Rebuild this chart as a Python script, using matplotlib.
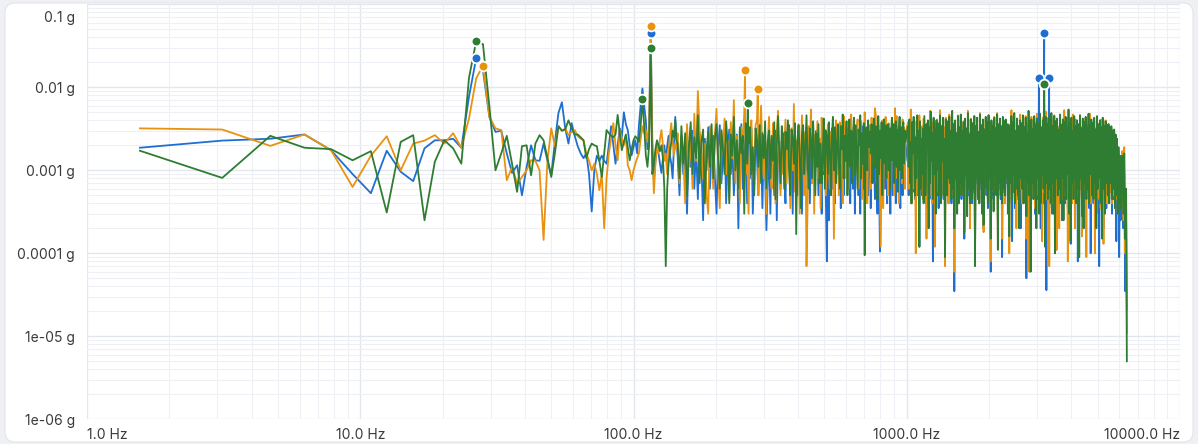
import numpy as np
import matplotlib.pyplot as plt
from matplotlib.patches import FancyBboxPatch
from matplotlib.ticker import NullFormatter
from matplotlib.transforms import IdentityTransform, ScaledTranslation

plt.rcParams['font.family'] = ['Inter', 'DejaVu Sans']

DF = 1.5625  # FFT bin width in Hz

# amplitudes in mg
# bins 1..92 (every FFT bin)
blue_low = [1.87, 2.28, 2.4, 2.7, 1.75, 0.9, 0.53, 1.72, 0.96, 0.74, 1.84, 2.3, 2.3, 2.4, 1.87, 7.7, 22.4, 16.0,
            4.4, 2.9, 3.0, 1.6, 0.93, 1.15, 0.5, 1.1, 2.0, 1.32,
            1.3, 2.1, 1.3, 0.87, 2.2, 4.9, 6.6, 3.2, 2.1, 3.7,
            2.6, 1.95, 1.6, 1.4, 1.6, 0.9, 0.32, 1.0, 1.5, 1.3,
            1.5, 1.3, 1.2, 2.0, 3.4, 2.0, 1.2, 2.0, 3.2, 2.5,
            5.0, 3.6, 3.05, 2.0, 1.52, 1.9, 2.3, 1.6, 3.5, 6.1,
            9.7, 6.0, 4.0, 1.8, 3.0, 44.6, 2.2, 0.76, 1.3, 2.2,
            1.6, 1.2, 0.93, 1.4, 2.0, 1.3, 1.95, 2.6, 1.5, 1.2,
            0.8, 2.0, 4.4, 2.2]
orange_low = [3.2, 3.1, 1.97, 2.7, 1.75, 0.63, 1.5, 2.57, 1.0, 2.1, 2.28, 2.65, 2.1, 2.8, 1.87, 4.2, 12.8, 18.2,
              4.4, 3.2, 3.05, 0.76, 1.1, 0.69, 0.83, 1.0, 1.32, 1.3,
              1.0, 0.145, 1.32, 3.2, 1.95, 3.4, 3.0, 3.2, 2.65, 2.9,
              3.05, 2.57, 2.4, 2.3, 1.6, 1.3, 1.0, 1.2, 0.9, 0.575,
              0.9, 0.2, 0.8, 1.6, 2.4, 3.7, 2.0, 1.32, 3.05, 2.4,
              2.0, 2.57, 1.15, 1.0, 0.76, 1.0, 1.2, 1.4, 1.6, 2.4,
              3.4, 2.8, 3.05, 2.2, 3.0, 54.8, 1.5, 0.53, 1.2, 2.1,
              1.6, 2.4, 3.05, 2.0, 1.3, 1.6, 0.9, 1.8, 2.6, 3.7,
              2.2, 1.5, 2.1, 1.8]
green_low = [1.72, 0.81, 2.6, 1.87, 1.8, 1.32, 1.7, 0.31, 2.2, 2.65, 0.25, 1.27, 2.3, 1.84, 1.2, 13.0, 36.0, 33.0,
             5.9, 1.0, 1.6, 2.6, 1.2, 0.55, 1.95, 2.0, 0.87, 2.1,
             2.65, 2.3, 1.4, 0.83, 1.6, 3.4, 3.0, 3.1, 4.0, 3.2,
             2.7, 2.7, 2.5, 2.3, 1.4, 1.8, 2.1, 2.0, 1.95, 1.3,
             0.83, 1.6, 3.05, 2.8, 2.6, 2.5, 2.7, 4.65, 2.8, 1.75,
             2.2, 2.7, 1.9, 1.32, 1.8, 2.3, 2.57, 2.4, 2.2, 3.5,
             7.2, 3.5, 1.52, 1.1, 2.0, 29.5, 0.9, 1.2, 1.8, 2.3,
             2.0, 1.7, 2.0, 1.4, 0.6, 0.07, 0.6, 1.2, 1.6, 2.2,
             3.0, 2.5, 4.0, 2.3]

# 145 Hz .. 990 Hz readings (points get denser towards 1 kHz)
blue_mid = [1.5, 0.5, 2.6, 0.9, 1.8, 0.3, 2.2, 1.1, 3.0, 0.6, 1.9, 0.45, 2.8, 1.3, 0.25, 2.4, 1.0, 3.3, 0.6, 1.7,
            2.6, 0.8, 0.3, 1.9, 3.5, 0.7, 1.4, 2.9, 0.4, 1.6, 3.1, 0.9, 2.0, 0.5, 1.2, 2.7, 0.2, 1.8, 3.6, 0.6,
            1.4, 2.5, 0.4, 2.1, 0.8, 3.2, 0.3, 1.1, 2.3, 1.5, 0.5, 2.9, 1.7, 0.35, 2.6, 1.0, 0.19, 0.7, 1.9, 0.3,
            2.4, 1.2, 0.5, 3.0, 0.25, 1.6, 2.2, 0.6, 1.8, 2.8, 0.9, 0.4, 2.5, 1.3, 3.5, 0.55, 1.7, 0.3, 3.4, 1.1,
            2.0, 0.5, 3.1, 0.8, 1.5, 0.3, 2.6, 1.2, 0.6, 3.3, 1.0, 2.3, 0.4, 1.9, 0.7, 2.7, 1.4, 1.1, 3.0, 1.6,
            0.5, 2.1, 1.1, 0.3, 3.4, 0.9, 1.8, 0.5, 0.08, 1.3, 0.25, 2.8, 1.0, 3.2, 0.6, 1.7, 0.4, 2.4, 1.2, 2.9,
            0.7, 2.2, 0.35, 3.0, 1.4, 0.5, 2.6, 2.5, 1.9, 3.1, 0.8, 2.3, 0.4, 2.7, 1.1, 0.6, 3.3, 0.3, 2.0, 1.5,
            2.8, 0.5, 1.7, 0.3, 2.5, 1.2, 3.4, 0.6, 2.1, 0.4, 2.9, 1.0, 0.5, 3.2, 1.6, 0.35, 2.4, 0.7, 3.0, 1.3,
            0.45, 2.6, 1.1, 0.3, 3.5, 0.7, 0.105, 0.5, 2.8, 2.3, 1.8, 3.1, 0.6, 2.4, 1.4, 0.4, 3.3, 2.2, 2.0, 0.3,
            2.7, 1.2, 0.5, 3.0, 0.8, 2.3, 0.4, 1.9, 3.4, 0.6, 2.5, 1.0, 0.35, 2.9, 1.5, 0.5, 3.2, 0.7, 2.1, 1.3]
orange_mid = [2.8, 0.7, 2.4, 1.5, 0.4, 3.6, 1.1, 2.4, 0.6, 4.8, 1.3, 9.0, 3.0, 1.9, 0.8, 2.1, 0.5, 0.3, 3.4, 1.6,
              0.6, 2.7, 5.5, 1.0, 0.35, 3.1, 1.7, 4.2, 0.9, 2.3, 0.45, 3.8, 1.4, 7.0, 0.7, 2.6, 1.2, 0.4, 3.3, 2.0,
              5.0, 0.9, 1.8, 0.3, 2.9, 4.0, 1.1, 0.6, 3.5, 4.0, 0.5, 2.4, 6.0, 1.3, 0.8, 3.0, 0.3, 2.2, 4.4, 1.0,
              0.6, 3.7, 1.6, 0.4, 2.8, 5.2, 1.2, 0.5, 2.5, 0.9, 1.9, 4.1, 0.7, 2.6, 1.4, 0.35, 3.2, 1.0, 6.3, 0.55,
              2.3, 0.8, 3.6, 0.3, 1.7, 4.6, 1.2, 0.5, 2.9, 0.07, 0.4, 3.4, 1.8, 5.4, 0.7, 2.1, 0.3, 2.7, 1.3, 3.9,
              0.8, 2.4, 0.35, 4.3, 1.6, 1.0, 3.1, 0.5, 2.2, 3.6, 1.1, 0.6, 2.9, 1.5, 1.8, 0.15, 1.4, 4.0, 0.9, 2.6,
              0.5, 3.8, 1.2, 2.7, 0.4, 4.5, 1.5, 0.8, 3.3, 2.0, 0.6, 3.0, 1.3, 4.7, 0.7, 2.5, 3.5, 3.4, 1.0, 2.8,
              4.1, 0.6, 2.3, 1.5, 3.9, 0.45, 2.7, 1.1, 5.0, 0.8, 1.9, 0.4, 2.8, 1.7, 3.5, 0.6, 4.3, 1.2, 2.0, 3.1,
              5.6, 4.6, 0.7, 2.6, 1.0, 2.1, 0.5, 0.12, 1.8, 4.0, 0.35, 2.4, 1.2, 4.4, 0.8, 3.0, 0.5, 3.7, 3.2, 2.9,
              0.6, 4.2, 1.3, 3.4, 0.5, 5.6, 1.6, 4.5, 0.8, 3.1, 0.4, 3.8, 1.0, 2.6, 0.7, 4.1, 1.2, 3.3, 0.6, 2.8]
green_mid = [2.1, 0.8, 3.4, 1.2, 2.8, 0.5, 1.9, 3.8, 0.9, 2.5, 1.4, 4.6, 0.7, 2.2, 3.1, 0.4, 1.7, 2.9, 1.1, 3.6,
             0.8, 2.4, 3.6, 1.3, 0.6, 3.0, 1.8, 0.9, 3.9, 2.0, 0.4, 2.7, 1.5, 4.4, 1.0, 2.3, 0.6, 3.3, 1.6, 2.6,
             0.3, 3.7, 1.2, 2.1, 3.3, 0.9, 1.9, 0.5, 3.2, 2.4, 1.1, 3.5, 0.7, 2.8, 1.4, 3.9, 0.6, 2.2, 3.0, 0.8,
             2.6, 1.3, 3.8, 0.45, 2.0, 4.5, 1.6, 0.7, 3.4, 2.3, 0.6, 2.9, 1.8, 4.0, 1.0, 0.5, 3.1, 2.5, 1.2, 3.7,
             0.17, 2.2, 3.5, 1.5, 0.35, 2.7, 3.5, 0.9, 1.9, 4.6, 1.3, 0.6, 3.2, 2.4, 0.8, 3.9, 1.7, 0.5, 2.8, 1.1,
             3.6, 0.7, 2.1, 0.7, 1.4, 4.2, 0.6, 3.0, 2.6, 0.9, 3.8, 1.6, 0.5, 2.5, 4.4, 1.0, 3.3, 0.7, 2.0, 3.6,
             1.2, 0.6, 3.4, 1.8, 4.7, 0.8, 2.6, 1.3, 3.9, 0.5, 2.2, 4.1, 1.1, 3.0, 0.7, 2.7, 4.3, 0.9, 3.5, 1.5,
             0.6, 3.1, 2.0, 4.6, 0.8, 2.8, 1.2, 3.7, 0.095, 2.4, 3.3, 1.0, 4.0, 1.9, 2.9, 1.6, 3.6, 0.7, 2.5, 4.2,
             1.1, 3.4, 0.6, 0.45, 4.5, 0.9, 3.0, 1.4, 3.8, 0.5, 2.3, 4.1, 1.2, 3.5, 0.8, 2.6, 3.6, 1.0, 3.2, 0.6,
             2.9, 4.3, 1.3, 3.6, 0.7, 2.4, 3.9, 1.1, 3.1, 0.55, 2.7, 4.4, 1.0, 3.3, 0.8, 2.5, 3.8, 1.2, 3.0, 2.2]

# 1010 Hz .. 6100 Hz, log spaced readings
blue_high = [2.4, 0.5, 3.0, 0.6, 1.9, 0.4, 2.7, 0.55, 3.2, 0.8, 0.45, 2.5, 0.6, 3.0, 0.5, 2.0, 0.12, 2.8, 0.7, 3.3,
             0.5, 2.1, 0.6, 3.1, 0.9, 0.4, 2.6, 0.55, 2.9, 0.35, 2.3, 0.7, 3.4, 0.45, 1.8, 0.08, 2.9, 0.6, 2.2, 0.5,
             3.0, 0.5, 2.4, 0.35, 1.7, 3.3, 0.6, 2.6, 0.8, 3.2, 0.45, 2.1, 0.25, 2.8, 0.9, 0.5, 2.7, 0.4, 3.0, 0.7,
             2.0, 0.4, 3.4, 0.55, 2.5, 0.035, 2.8, 0.8, 1.9, 0.5, 3.1, 0.4, 2.3, 0.6, 3.3, 0.45, 2.0, 0.5, 2.7, 0.15,
             2.9, 0.8, 2.3, 0.45, 3.3, 0.5, 1.8, 0.35, 2.8, 0.7, 0.4, 2.6, 0.55, 3.1, 0.1, 2.4, 0.7, 3.0, 0.45, 2.0,
             0.4, 3.2, 0.6, 2.5, 0.5, 2.9, 0.2, 2.2, 0.9, 3.1, 0.5, 2.7, 0.35, 3.2, 0.6, 2.0, 0.06, 2.8, 0.5, 2.4,
             0.45, 2.9, 0.8, 2.2, 0.5, 3.3, 0.25, 2.5, 0.6, 2.9, 0.45, 2.3, 0.09, 3.0, 0.55, 2.6, 0.4, 2.9, 0.7, 2.4,
             0.5, 3.4, 0.4, 2.1, 0.7, 3.1, 0.14, 2.7, 0.55, 3.0, 0.35, 2.4, 0.8, 3.3, 0.45, 2.1, 0.6, 2.8, 0.2, 3.2,
             0.55, 2.6, 0.4, 3.0, 0.8, 2.3, 0.05, 2.9, 0.5, 3.3, 0.6, 2.5, 0.35, 3.0, 0.7, 2.1, 0.45, 3.1, 0.3, 2.7,
             0.6, 3.3, 0.45, 2.3, 0.8, 3.0, 0.2, 2.6, 0.55, 3.2, 0.4, 2.2, 0.7, 2.9, 0.036, 3.0, 0.5, 2.4, 0.35, 3.4,
             0.55, 2.8, 0.3, 3.1, 0.6, 2.5, 0.45, 3.0, 0.11, 2.7, 0.7, 3.3, 0.4, 2.3, 0.6, 3.0, 0.25, 2.6, 0.5, 2.9,
             0.4, 3.2, 0.7, 2.4, 0.35, 3.0, 0.55, 2.8, 0.13, 3.4, 0.5, 2.3, 0.6, 3.1, 0.3, 2.6, 0.5, 3.0, 0.08, 2.5,
             0.5, 3.0, 0.6, 2.7, 0.4, 3.3, 0.2, 2.5, 0.7, 3.0, 0.45, 2.3, 0.55, 3.2, 0.35, 2.8, 0.1, 2.9, 0.6, 2.4,
             0.4, 3.0, 0.55, 2.6, 0.3, 3.1, 0.5, 2.4, 0.07, 2.9, 0.6, 2.7, 0.45, 3.0, 0.2, 2.5, 0.55, 2.8, 0.35, 2.6,
             0.5, 2.7, 0.4, 2.4, 0.55, 2.5, 0.3, 2.2, 0.45, 2.0, 0.35, 1.8, 0.14, 1.6, 0.4, 1.3, 0.09, 1.0, 0.25, 0.6]
orange_high = [3.8, 0.6, 3.1, 0.9, 5.4, 0.4, 2.8, 1.0, 3.5, 0.6, 2.6, 0.1, 3.9, 0.8, 3.2, 0.5, 4.6, 0.9, 2.4, 0.6,
               3.4, 0.45, 4.2, 1.0, 0.6, 3.0, 0.15, 3.7, 0.8, 3.1, 0.5, 5.2, 0.7, 2.7, 0.4, 3.8, 1.0, 3.2, 0.12, 3.6,
               0.9, 4.1, 0.55, 2.9, 0.7, 5.3, 0.45, 2.6, 0.8, 3.7, 0.5, 3.3, 0.07, 4.3, 1.0, 0.6, 3.1, 0.4, 4.7, 0.8,
               2.9, 0.5, 4.0, 0.7, 3.4, 0.06, 3.8, 0.9, 2.6, 0.55, 4.6, 0.4, 3.2, 0.8, 4.1, 0.5, 3.0, 0.6, 3.9, 0.2,
               3.5, 1.0, 3.0, 0.55, 5.2, 0.6, 2.8, 0.2, 4.2, 0.8, 0.5, 3.7, 0.7, 4.5, 0.09, 3.2, 0.9, 4.3, 0.55, 2.9,
               0.45, 4.9, 0.8, 3.4, 0.55, 4.0, 0.18, 3.1, 1.0, 4.2, 0.6, 3.6, 0.4, 4.6, 0.8, 2.9, 0.08, 3.8, 0.7, 3.3,
               0.55, 4.4, 0.9, 3.2, 0.5, 4.9, 0.12, 3.5, 0.8, 3.9, 0.5, 3.2, 0.15, 4.3, 0.6, 3.7, 0.4, 4.0, 0.8, 3.4,
               0.6, 3.6, 0.1, 3.0, 0.7, 5.3, 0.5, 3.6, 1.0, 3.8, 0.55, 2.9, 0.2, 4.2, 0.8, 3.4, 0.45, 4.7, 0.6, 3.5,
               0.4, 4.0, 0.8, 3.1, 0.55, 4.5, 0.15, 3.3, 0.7, 3.8, 0.06, 3.4, 0.9, 4.4, 0.5, 3.0, 0.6, 4.1, 0.35, 3.7,
               0.8, 4.8, 0.5, 3.2, 0.4, 3.9, 0.7, 2.8, 0.14, 4.3, 0.55, 3.5, 0.9, 5.1, 0.45, 3.1, 0.6, 3.8, 0.07, 3.3,
               0.55, 4.2, 0.4, 3.4, 0.8, 4.6, 0.5, 3.0, 0.11, 4.0, 0.7, 3.3, 0.2, 4.4, 0.6, 3.6, 0.45, 3.2, 0.9, 5.3,
               0.5, 3.7, 0.7, 3.1, 0.08, 4.3, 0.55, 3.4, 0.8, 3.9, 0.4, 4.7, 0.6, 3.3, 0.2, 4.1, 0.5, 3.5, 0.7, 3.2,
               0.45, 4.6, 0.6, 3.3, 0.16, 4.0, 0.8, 2.9, 0.55, 4.2, 0.09, 3.6, 0.7, 3.4, 0.5, 4.8, 0.4, 3.8, 0.6, 3.3,
               0.55, 3.9, 0.1, 3.2, 0.7, 4.4, 0.45, 3.5, 0.6, 3.0, 0.35, 4.1, 0.8, 3.7, 0.13, 3.3, 0.5, 4.0, 0.4, 3.1,
               0.6, 3.6, 0.45, 3.3, 0.55, 3.2, 0.4, 2.9, 0.5, 2.7, 0.35, 2.3, 0.45, 2.0, 0.3, 1.7, 0.4, 1.4, 0.45, 1.1]
green_high = [3.4, 1.1, 4.1, 0.7, 2.2, 0.4, 3.8, 1.6, 4.4, 1.2, 0.5, 2.5, 0.8, 4.6, 1.4, 3.0, 0.12, 3.9, 0.6, 2.4,
              0.9, 3.2, 0.4, 4.5, 1.6, 0.5, 3.6, 2.0, 4.0, 0.2, 3.3, 0.7, 5.1, 1.3, 2.8, 0.45, 4.3, 0.9, 3.1, 0.3,
              4.0, 1.0, 3.7, 0.5, 2.0, 4.6, 0.4, 3.4, 1.3, 4.3, 0.5, 2.4, 0.09, 4.1, 1.1, 0.5, 3.9, 0.8, 4.4, 0.7,
              3.0, 0.45, 5.2, 0.6, 3.6, 0.2, 4.0, 0.8, 2.8, 0.3, 4.5, 0.4, 3.3, 0.7, 4.7, 0.5, 3.0, 0.6, 3.8, 0.18,
              4.2, 0.9, 3.2, 0.28, 4.9, 0.6, 2.7, 0.4, 4.1, 0.7, 0.45, 3.7, 0.6, 4.5, 0.07, 3.4, 0.8, 4.3, 0.5, 2.9,
              0.4, 4.7, 0.7, 3.5, 0.3, 4.1, 0.22, 3.1, 1.0, 4.4, 0.6, 3.8, 0.4, 4.6, 0.8, 2.9, 0.15, 4.0, 0.6, 3.4,
              0.32, 4.3, 0.9, 3.2, 0.5, 4.7, 0.11, 3.6, 0.7, 4.2, 0.5, 3.4, 0.4, 4.4, 0.6, 3.9, 0.5, 4.1, 0.8, 3.6,
              0.3, 3.5, 0.16, 3.1, 0.7, 4.5, 0.45, 3.8, 0.9, 4.9, 0.4, 3.0, 0.6, 4.2, 0.5, 3.4, 0.2, 4.0, 0.8, 3.7,
              0.6, 4.6, 0.4, 3.3, 0.8, 4.3, 0.28, 2.8, 0.7, 5.2, 0.5, 3.9, 0.06, 4.1, 0.7, 3.1, 0.45, 4.5, 0.6, 3.5,
              0.2, 4.2, 0.8, 3.7, 0.3, 4.8, 0.4, 3.3, 0.9, 4.0, 0.6, 2.9, 0.12, 4.4, 0.7, 3.6, 0.45, 4.3, 0.6, 3.2,
              0.4, 4.9, 0.7, 3.4, 0.3, 4.5, 0.1, 3.9, 0.8, 4.2, 0.5, 3.1, 0.6, 4.7, 0.4, 3.5, 0.8, 4.1, 0.25, 3.8,
              0.6, 4.4, 0.45, 3.3, 0.9, 5.4, 0.3, 3.7, 0.14, 4.3, 0.7, 3.0, 0.45, 4.5, 0.8, 3.4, 0.4, 4.0, 0.6, 3.6,
              0.09, 4.6, 0.8, 3.2, 0.28, 4.2, 0.2, 3.8, 0.7, 4.4, 0.45, 3.3, 0.6, 4.8, 0.4, 3.5, 0.9, 4.1, 0.5, 3.7,
              0.45, 4.3, 0.7, 3.1, 0.2, 4.5, 0.6, 3.6, 0.8, 4.0, 0.4, 3.3, 0.15, 4.3, 0.6, 3.4, 0.3, 3.9, 0.7, 3.5,
              0.5, 3.6, 0.4, 3.3, 0.7, 3.4, 0.45, 3.0, 0.6, 3.1, 0.35, 2.7, 0.5, 2.4, 0.3, 1.9, 0.4, 1.5, 0.35, 0.9]

# roll-off above 6100 Hz
tail_hz = [6150, 6200, 6250, 6300, 6350, 6390]
blue_tail = [1.2, 0.2, 0.9, 0.035, 0.25, 0.021]
orange_tail = [1.7, 0.25, 1.9, 0.1, 0.5, 0.011]
green_tail = [1.5, 0.3, 1.6, 0.15, 0.6, 0.005]

# narrow tones between the regular readings
blue_spike_hz, blue_spike_mg = [3050, 3184, 3320], [12.8, 44.7, 12.8]
orange_spike_hz, orange_spike_mg = [256, 285, 3184], [16.2, 9.45, 6.4]
green_spike_hz, green_spike_mg = [262, 3184], [6.5, 10.9]

# marked peaks (Hz)
blue_peaks = [26.6, 115.6, 3050, 3184, 3320]
orange_peaks = [28.1, 115.6, 256, 285]
green_peaks = [26.6, 107.8, 115.6, 262, 3184]

x_ticks = [1, 10, 100, 1000, 10000]
x_labels = ['1.0 Hz', '10.0 Hz', '100.0 Hz', '1000.0 Hz', '10000.0 Hz']
y_ticks = [1e-6, 1e-5, 1e-4, 1e-3, 1e-2, 1e-1]
y_labels = ['1e-06 g', '1e-05 g', '0.0001 g', '0.001 g', '0.01 g', '0.1 g']


def build(low, mid, high, tail, spike_hz, spike_mg):
    f = np.concatenate([DF * np.arange(1, len(low) + 1),
                        np.linspace(145 ** 0.5, 990 ** 0.5, len(mid)) ** 2,
                        np.geomspace(1010, 6100, len(high)),
                        tail_hz, spike_hz])
    v = np.concatenate([low, mid, high, tail, spike_mg]) / 1000.0
    order = np.argsort(f)
    return f[order], v[order]


series = [
    ('#1f6fd2', build(blue_low, blue_mid, blue_high, blue_tail, blue_spike_hz, blue_spike_mg), blue_peaks),
    ('#e8930f', build(orange_low, orange_mid, orange_high, orange_tail, orange_spike_hz, orange_spike_mg), orange_peaks),
    ('#2e7d32', build(green_low, green_mid, green_high, green_tail, green_spike_hz, green_spike_mg), green_peaks),
]

W, H = 1198, 444
fig = plt.figure(figsize=(W / 100, H / 100), dpi=100, facecolor='#eef0f4')
card = FancyBboxPatch((5, 2), 1188, 439, boxstyle='round,pad=0,rounding_size=10',
                      transform=IdentityTransform(), facecolor='white',
                      edgecolor='#e2e5ea', lw=0.8, zorder=-5)
fig.add_artist(card)

ax = fig.add_axes([87 / W, 1 - 419.3 / H, (1180 - 87) / W, (419.3 - 4.3) / H])
ax.set_facecolor('white')
ax.set_xscale('log')
ax.set_yscale('log')

for color, (f, v), peaks in series:
    ax.plot(f, v, color=color, lw=1.3, zorder=2)

for color, (f, v), peaks in series:
    idx = [int(np.argmin(np.abs(f - p))) for p in peaks]
    ax.plot(f[idx], v[idx], 'o', ms=7, mfc=color, mec='white', mew=1.3, zorder=5)

ax.set_xlim(1, 10000)
ax.set_ylim(1e-6, 0.1)
ax.set_xticks(x_ticks, x_labels)
ax.set_yticks(y_ticks, y_labels)
ax.xaxis.set_minor_formatter(NullFormatter())
ax.yaxis.set_minor_formatter(NullFormatter())
ax.grid(which='major', color='#e2e6ed', lw=1.0)
ax.grid(which='minor', color='#eef0f5', lw=0.8)
ax.set_axisbelow(True)
for s in ax.spines.values():
    s.set_visible(False)
ax.tick_params(which='both', length=0, colors='#3a3a3a', labelsize=10)
ax.tick_params(axis='y', pad=8.5)
ax.tick_params(axis='x', pad=6)

xl = ax.get_xticklabels()
xl[0].set_ha('left')
xl[-1].set_ha('right')
yl = ax.get_yticklabels()
yl[-1].set_va('top')
yl[-1].set_transform(yl[-1].get_transform() + ScaledTranslation(0, -5 / 72, fig.dpi_scale_trans))

fig.savefig('out.png', dpi=100, facecolor=fig.get_facecolor())
